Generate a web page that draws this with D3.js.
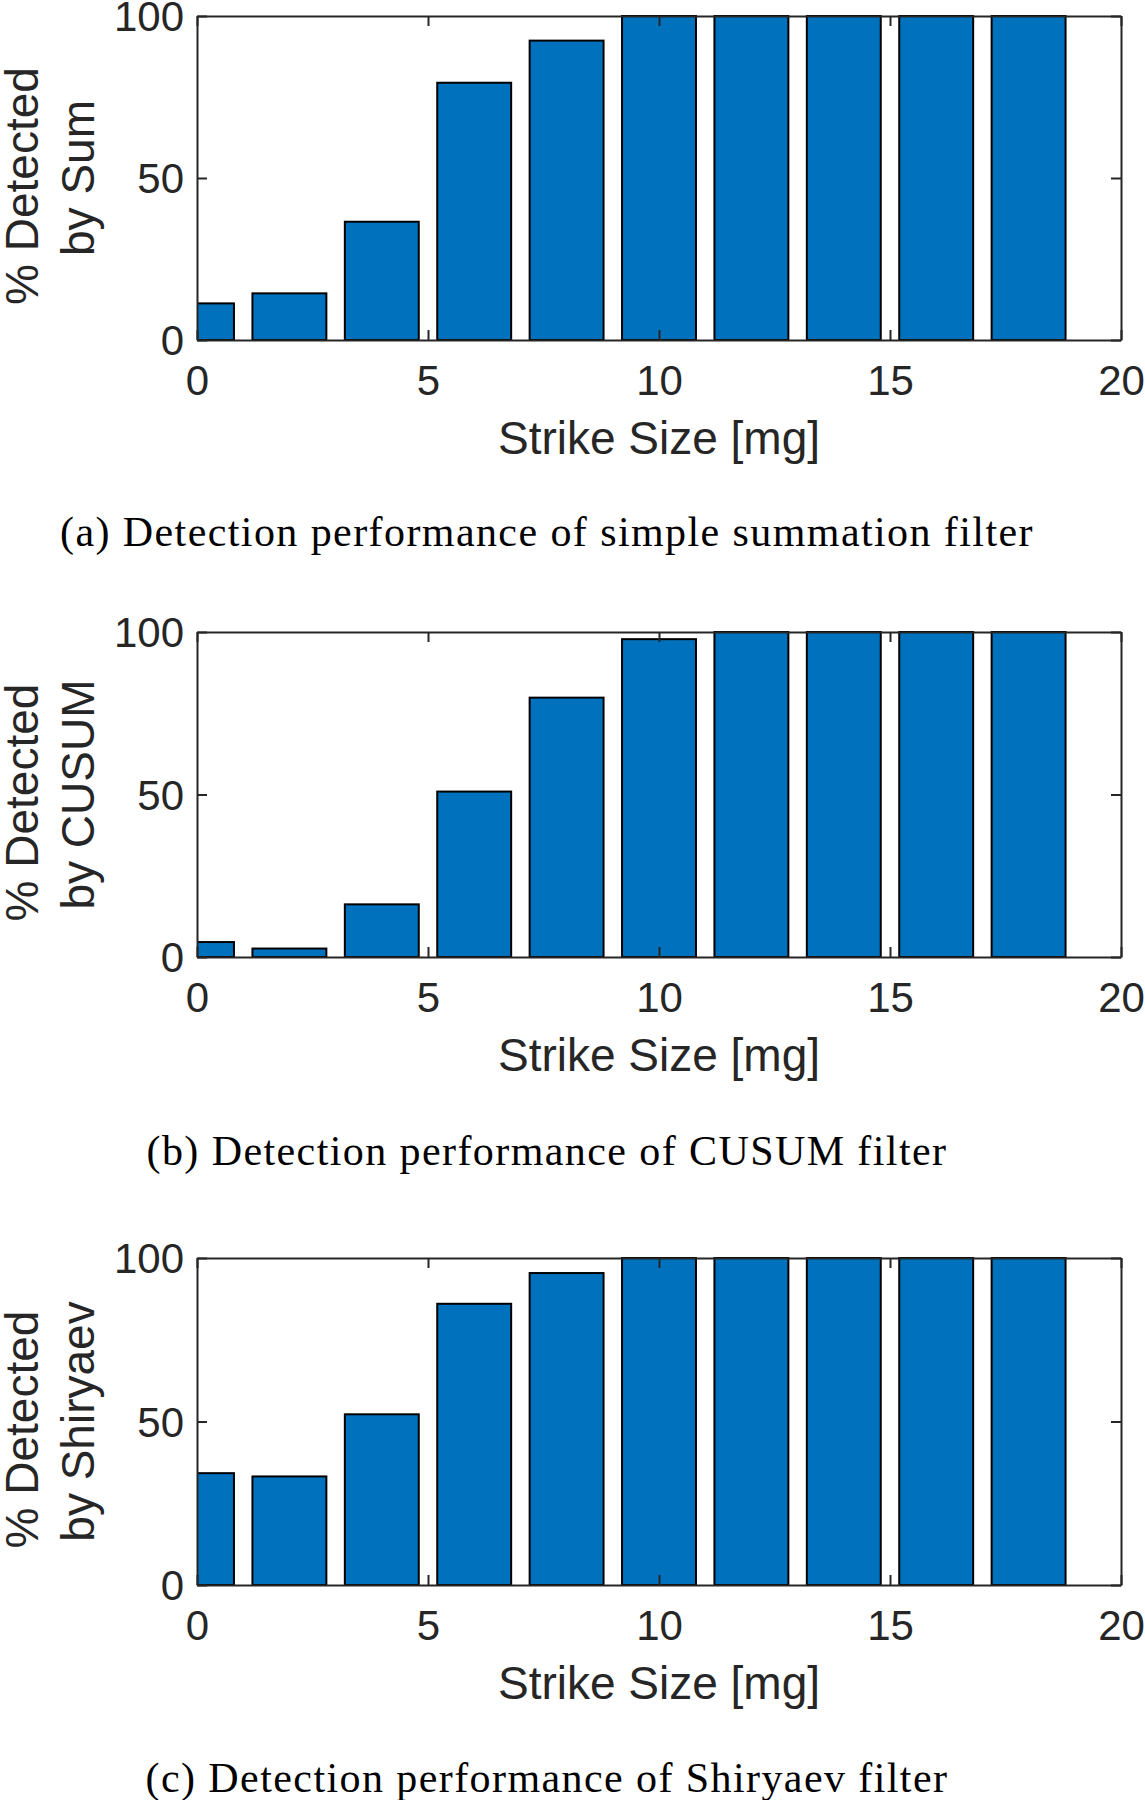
<!DOCTYPE html>
<html>
<head>
<meta charset="utf-8">
<script src="https://cdn.jsdelivr.net/npm/d3@7"></script>
<style>
  html, body { margin: 0; padding: 0; background: #fff; }
  svg { display: block; }
</style>
</head>
<body>
<svg id="chart" width="1145" height="1800"></svg>
<script>
// ---- data ----
const strikeSizes = [0, 2, 4, 6, 8, 10, 12, 14, 16, 18];
const sumDetected = [11.3, 14.4, 36.5, 79.4, 92.4, 100, 100, 100, 100, 100];
const cusumDetected = [4.6, 2.6, 16.2, 50.9, 79.8, 97.8, 100, 100, 100, 100];
const shiryaevDetected = [34.2, 33.2, 52.2, 86.0, 95.4, 100, 100, 100, 100, 100];
const xTicks = [0, 5, 10, 15, 20];
const yTicks = [0, 50, 100];
const yLabels = [["% Detected", "by Sum"], ["% Detected", "by CUSUM"], ["% Detected", "by Shiryaev"]];
const xLabel = "Strike Size [mg]";
const captions = [
  "(a) Detection performance of simple summation filter",
  "(b) Detection performance of CUSUM filter",
  "(c) Detection performance of Shiryaev filter"
];
const series = [sumDetected, cusumDetected, shiryaevDetected];

// ---- layout ----
const svg = d3.select("#chart");
const left = 197, right = 1121;
const panels = [
  { top: 16, bottom: 340, caption: 532 },
  { top: 632, bottom: 957, caption: 1151 },
  { top: 1258, bottom: 1585, caption: 1778 }
];
const axisColor = "#262626";
const barColor = "#0072BD";
const barWidth = 1.6;
const tickFont = 42, labelFont = 46;
const sans = "'Liberation Sans', Arial, Helvetica, sans-serif";

const x = d3.scaleLinear().domain([0, 20]).range([left, right]);

panels.forEach((p, i) => {
  const y = d3.scaleLinear().domain([0, 100]).range([p.bottom, p.top]);
  const g = svg.append("g");
  const clipId = "clip" + i;
  g.append("clipPath").attr("id", clipId)
    .append("rect").attr("x", left).attr("y", p.top - 2)
    .attr("width", right - left).attr("height", p.bottom - p.top + 2);

  // bars
  g.append("g").attr("clip-path", `url(#${clipId})`)
    .selectAll("rect").data(strikeSizes.map((s, j) => ({ s, v: series[i][j] })))
    .join("rect")
    .attr("x", d => x(d.s - barWidth / 2))
    .attr("width", d => x(d.s + barWidth / 2) - x(d.s - barWidth / 2))
    .attr("y", d => y(d.v))
    .attr("height", d => y(0) - y(d.v))
    .attr("fill", barColor)
    .attr("stroke", "#000")
    .attr("stroke-width", 2);

  // box axes
  const tl = 10;
  const axB = d3.axisBottom(x).tickValues(xTicks).tickSizeInner(-tl).tickSizeOuter(0).tickPadding(24);
  const axT = d3.axisTop(x).tickValues(xTicks).tickSizeInner(-tl).tickSizeOuter(0).tickFormat("");
  const axL = d3.axisLeft(y).tickValues(yTicks).tickSizeInner(-tl).tickSizeOuter(0).tickPadding(22);
  const axR = d3.axisRight(y).tickValues(yTicks).tickSizeInner(-tl).tickSizeOuter(0).tickFormat("");

  const styleAxis = sel => {
    sel.selectAll("path").attr("stroke", axisColor).attr("stroke-width", 2);
    sel.selectAll("line").attr("stroke", axisColor).attr("stroke-width", 2);
    sel.selectAll("text").attr("fill", axisColor).style("font-family", sans).style("font-size", tickFont + "px");
  };
  g.append("g").attr("transform", `translate(0,${p.bottom})`).call(axB).call(styleAxis)
    .selectAll("text").attr("dy", null).attr("y", 40).attr("dominant-baseline", "central");
  g.append("g").attr("transform", `translate(0,${p.top})`).call(axT).call(styleAxis);
  g.append("g").attr("transform", `translate(${left},0)`).call(axL).call(styleAxis)
    .selectAll("text").attr("dy", null).attr("x", -13).attr("dominant-baseline", "central");
  g.append("g").attr("transform", `translate(${right},0)`).call(axR).call(styleAxis);
  g.selectAll(".domain").attr("stroke", axisColor);

  // x label
  g.append("text")
    .attr("x", (left + right) / 2).attr("y", p.bottom + 98)
    .attr("text-anchor", "middle").attr("dominant-baseline", "central")
    .attr("fill", axisColor).style("font-family", sans).style("font-size", labelFont + "px")
    .text(xLabel);

  // y label (two lines, rotated)
  const cy = (p.top + p.bottom) / 2;
  const ylx = [38, 94];
  yLabels[i].forEach((t, k) => {
    g.append("text")
      .attr("transform", `translate(${ylx[k]},${cy + (k === 0 ? 8 : 0)}) rotate(-90)`)
      .attr("text-anchor", "middle")
      .attr("fill", axisColor).style("font-family", sans).style("font-size", labelFont + "px")
      .text(t);
  });

  // caption
  g.append("text").attr("class", "caption")
    .attr("x", 547).attr("y", p.caption)
    .attr("text-anchor", "middle").attr("dominant-baseline", "central")
    .attr("fill", "#000").style("font-family", "'Liberation Serif', 'Times New Roman', serif")
    .style("font-size", "42px")
    .text(captions[i]);
});

// small extra spacing so caption (a) spans ~974px like the reference
const capNodes = svg.selectAll(".caption").nodes();
const w = capNodes[0].getComputedTextLength();
const n = captions[0].length;
const ls = Math.max(0, (974 - w) / n);
svg.selectAll(".caption").style("letter-spacing", ls + "px");
</script>
</body>
</html>
